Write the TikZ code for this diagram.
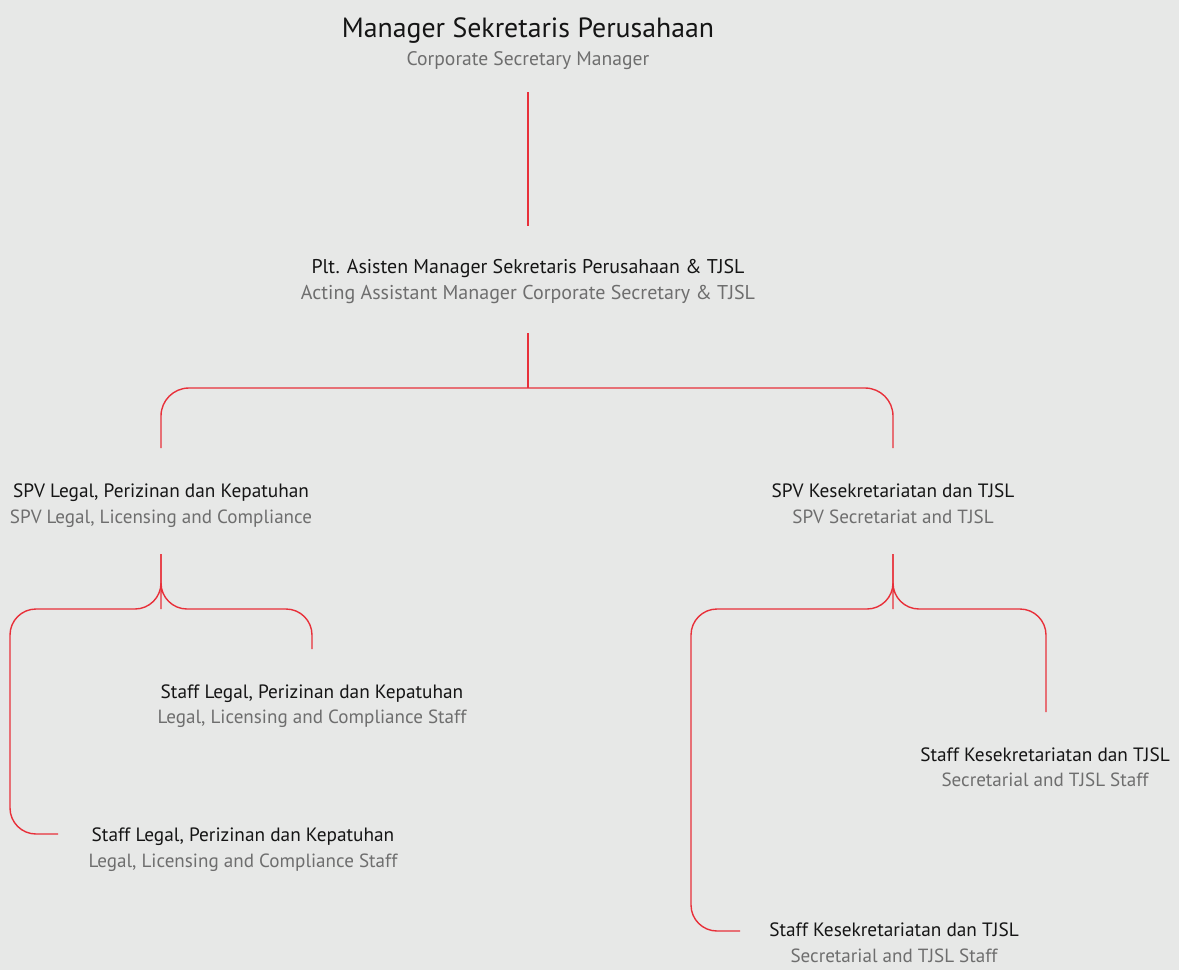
\documentclass[tikz,border=0pt]{standalone}
\usepackage{fontspec}
\setmainfont{PT Sans}
\definecolor{bgc}{HTML}{E7E8E7}
\definecolor{linec}{HTML}{E8303A}
\definecolor{maintext}{HTML}{151515}
\definecolor{subtext}{HTML}{6E6E6E}
\begin{document}
\begin{tikzpicture}[x=1pt,y=-1pt,
  title/.style={anchor=base,inner sep=0pt,text=maintext,font=\fontsize{27.8}{28}\selectfont},
  titlesub/.style={anchor=base,inner sep=0pt,text=subtext,font=\fontsize{19.6}{20}\selectfont},
  role/.style={anchor=base,inner sep=0pt,text=maintext,font=\fontsize{19.3}{20}\selectfont},
  rolesub/.style={anchor=base,inner sep=0pt,text=subtext,font=\fontsize{19.1}{20}\selectfont},
  headrole/.style={role,font=\fontsize{19.9}{20}\selectfont},
  headrolesub/.style={rolesub,font=\fontsize{20}{20}\selectfont},
  link/.style={draw=linec,line width=1.4pt,rounded corners=28pt},
  split/.style={draw=linec,line width=1.4pt,rounded corners=26pt}]
\fill[bgc] (0,0) rectangle (1179,970);
\useasboundingbox (0,0) rectangle (1179,970);

% labels
\node[title] (mgr) at (528,37) {Manager Sekretaris Perusahaan};
\node[titlesub] (mgrEn) at (528,65) {Corporate Secretary Manager};
\node[headrole] (asm) at (528,273) {Plt. Asisten Manager Sekretaris Perusahaan \& TJSL};
\node[headrolesub] (asmEn) at (528,299) {Acting Assistant Manager Corporate Secretary \& TJSL};
\node[role] (spvL) at (161,497) {SPV Legal, Perizinan dan Kepatuhan};
\node[rolesub] (spvLEn) at (161,523) {SPV Legal, Licensing and Compliance};
\node[role] (spvR) at (893,497) {SPV Kesekretariatan dan TJSL};
\node[rolesub] (spvREn) at (893,523) {SPV Secretariat and TJSL};
\node[role] (stL1) at (312,698) {Staff Legal, Perizinan dan Kepatuhan};
\node[rolesub] (stL1En) at (312,723) {Legal, Licensing and Compliance Staff};
\node[role] (stL2) at (243,841) {Staff Legal, Perizinan dan Kepatuhan};
\node[rolesub] (stL2En) at (243,867) {Legal, Licensing and Compliance Staff};
\node[role] (stR1) at (1045,761) {Staff Kesekretariatan dan TJSL};
\node[rolesub] (stR1En) at (1045,786) {Secretarial and TJSL Staff};
\node[role] (stR2) at (894,936) {Staff Kesekretariatan dan TJSL};
\node[rolesub] (stR2En) at (894,962) {Secretarial and TJSL Staff};

% connector end points
\coordinate (mgrOut) at (528,92);
\coordinate (asmIn) at (528,226);
\coordinate (asmOut) at (528,333);
\coordinate (spvBar) at (528,388);
\coordinate (spvLIn) at (161,448);
\coordinate (spvRIn) at (893,448);
\coordinate (spvLOut) at (161,554);
\coordinate (spvROut) at (893,554);
\coordinate (stL1In) at (312,649);
\coordinate (stL2In) at (58,834);
\coordinate (stR1In) at (1046,712);
\coordinate (stR2In) at (740,931);

% manager to assistant manager
\draw[link] (mgrOut) -- (asmIn);
% assistant manager to both supervisors
\draw[link] (asmOut) -- (spvBar);
\draw[link] (spvLIn) -- (spvLIn |- spvBar) -- (spvRIn |- spvBar) -- (spvRIn);
% legal supervisor to staff
\draw[split] (spvLOut) -- ++(0,55) -- (10,609) -- (10,834) -- (stL2In);
\draw[split] (spvLOut) -- ++(0,29) -- ++(0,26) -- (stL1In |- 0,609) -- (stL1In);
% secretariat supervisor to staff
\draw[split] (spvROut) -- ++(0,55) -- (691,609) -- (691,931) -- (stR2In);
\draw[split] (spvROut) -- ++(0,29) -- ++(0,26) -- (stR1In |- 0,609) -- (stR1In);
\end{tikzpicture}
\end{document}
